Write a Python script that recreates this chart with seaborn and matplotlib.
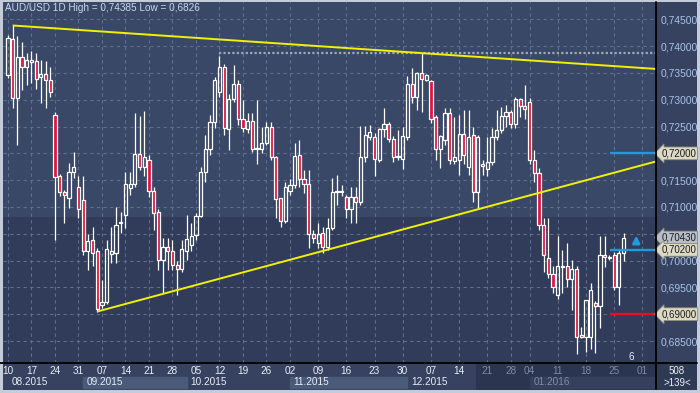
import numpy as np
import matplotlib
matplotlib.use("Agg")
import matplotlib.pyplot as plt
from matplotlib.patches import Rectangle
from matplotlib.ticker import FuncFormatter
import seaborn as sns

# AUD/USD daily bars, 10.08.2015 .. 27.01.2016
opens = [0.7346, 0.7413, 0.7303, 0.7380, 0.7362, 0.7375, 0.7372, 0.7342, 0.7348, 0.7337,
         0.7272, 0.7157, 0.7128, 0.7117, 0.7165, 0.7138, 0.7113, 0.7017, 0.7038, 0.7017,
         0.6917, 0.6923, 0.7013, 0.7015, 0.7070, 0.7085, 0.7135, 0.7142, 0.7199, 0.7174,
         0.7188, 0.7130, 0.7091, 0.7002, 0.7025, 0.7017, 0.6992, 0.6984, 0.7017, 0.7029,
         0.7048, 0.7083, 0.7166, 0.7208, 0.7259, 0.7315, 0.7362, 0.7245, 0.7301, 0.7329,
         0.7265, 0.7246, 0.7260, 0.7208, 0.7208, 0.7219, 0.7250, 0.7194, 0.7116, 0.7073,
         0.7130, 0.7141, 0.7197, 0.7152, 0.7142, 0.7049, 0.7032, 0.7051, 0.7026, 0.7060,
         0.7127, 0.7129, 0.7118, 0.7096, 0.7118, 0.7109, 0.7193, 0.7230, 0.7231, 0.7188,
         0.7245, 0.7254, 0.7226, 0.7193, 0.7189, 0.7231, 0.7329, 0.7306, 0.7350, 0.7337,
         0.7335, 0.7268, 0.7208, 0.7225, 0.7276, 0.7186, 0.7188, 0.7237, 0.7175, 0.7234,
         0.7127, 0.7181, 0.7170, 0.7184, 0.7231, 0.7244, 0.7270, 0.7278, 0.7255, 0.7301,
         0.7288, 0.7296, 0.7188, 0.7163, 0.7066, 0.7004, 0.6975, 0.6936, 0.6988, 0.6989,
         0.6965, 0.6984, 0.6861, 0.6857, 0.6858, 0.6920, 0.6915, 0.7010, 0.7006, 0.7011,
         0.6951, 0.7015]
highs = [0.7420, 0.74385, 0.7419, 0.7408, 0.7387, 0.7390, 0.7388, 0.7374, 0.7373, 0.7362,
         0.7278, 0.7162, 0.7132, 0.7182, 0.7203, 0.7157, 0.7157, 0.7050, 0.7063, 0.7024,
         0.6964, 0.7038, 0.7063, 0.7100, 0.7091, 0.7166, 0.7166, 0.7275, 0.7270, 0.7279,
         0.7197, 0.7137, 0.7096, 0.7042, 0.7042, 0.7038, 0.6999, 0.7038, 0.7085, 0.7070,
         0.7088, 0.7175, 0.7234, 0.7272, 0.7343, 0.7382, 0.7367, 0.7310, 0.7365, 0.7337,
         0.7300, 0.7275, 0.7275, 0.7300, 0.7250, 0.7259, 0.7259, 0.7195, 0.7117, 0.7147,
         0.7152, 0.7219, 0.7225, 0.7169, 0.7169, 0.7057, 0.7070, 0.7063, 0.7079, 0.7154,
         0.7160, 0.7141, 0.7122, 0.7138, 0.7138, 0.7251, 0.7251, 0.7253, 0.7238, 0.7247,
         0.7284, 0.7259, 0.7232, 0.7244, 0.7250, 0.7344, 0.7359, 0.7352, 0.7387, 0.7348,
         0.7337, 0.7272, 0.7234, 0.7284, 0.7284, 0.7268, 0.7272, 0.7281, 0.7281, 0.7250,
         0.7234, 0.7188, 0.7231, 0.7247, 0.7281, 0.7287, 0.7290, 0.7281, 0.7306, 0.7303,
         0.7328, 0.7303, 0.7207, 0.7172, 0.7079, 0.7079, 0.6990, 0.7045, 0.7020, 0.7032,
         0.7001, 0.6990, 0.6877, 0.6927, 0.6958, 0.6925, 0.7045, 0.7045, 0.7010, 0.7016,
         0.7020, 0.7051]
lows = [0.7340, 0.7285, 0.7216, 0.7318, 0.7328, 0.7331, 0.7320, 0.7293, 0.7284, 0.7306,
        0.7038, 0.7120, 0.7070, 0.7098, 0.7154, 0.7079, 0.7010, 0.6983, 0.6990, 0.6905,
        0.6912, 0.6919, 0.6995, 0.6995, 0.7051, 0.7061, 0.7122, 0.7138, 0.7169, 0.7157,
        0.7119, 0.7057, 0.6983, 0.6940, 0.6983, 0.6983, 0.6936, 0.6979, 0.7001, 0.7017,
        0.7038, 0.7082, 0.7147, 0.7197, 0.7247, 0.7306, 0.7234, 0.7206, 0.7296, 0.7253,
        0.7240, 0.7238, 0.7203, 0.7181, 0.7201, 0.7216, 0.7188, 0.7079, 0.7063, 0.7071,
        0.7122, 0.7135, 0.7138, 0.7126, 0.7023, 0.7032, 0.7023, 0.7015, 0.7019, 0.7057,
        0.7104, 0.7121, 0.7079, 0.7070, 0.7070, 0.7104, 0.7183, 0.7225, 0.7157, 0.7184,
        0.7231, 0.7221, 0.7183, 0.7188, 0.7170, 0.7225, 0.7293, 0.7281, 0.7278, 0.7335,
        0.7256, 0.7188, 0.7172, 0.7216, 0.7181, 0.7181, 0.7160, 0.7181, 0.7160, 0.7110,
        0.7098, 0.7160, 0.7157, 0.7178, 0.7225, 0.7238, 0.7250, 0.7247, 0.7247, 0.7268,
        0.7265, 0.7181, 0.7147, 0.7057, 0.6979, 0.6968, 0.6940, 0.6928, 0.6939, 0.6951,
        0.6908, 0.6826, 0.6855, 0.6830, 0.6836, 0.6828, 0.6874, 0.6988, 0.7001, 0.6945,
        0.6917, 0.7000]
closes = [0.7415, 0.7303, 0.7380, 0.7361, 0.7375, 0.7370, 0.7339, 0.7348, 0.7337, 0.7315,
          0.7156, 0.7127, 0.7122, 0.7165, 0.7175, 0.7096, 0.7017, 0.7037, 0.7015, 0.6910,
          0.6922, 0.7022, 0.7017, 0.7066, 0.7072, 0.7142, 0.7142, 0.7199, 0.7174, 0.7193,
          0.7130, 0.7088, 0.7002, 0.7025, 0.7017, 0.6992, 0.6984, 0.7022, 0.7040, 0.7046,
          0.7083, 0.7166, 0.7208, 0.7259, 0.7337, 0.7362, 0.7247, 0.7301, 0.7329, 0.7265,
          0.7247, 0.7260, 0.7209, 0.7210, 0.7219, 0.7250, 0.7194, 0.7114, 0.7073, 0.7137,
          0.7141, 0.7195, 0.7152, 0.7142, 0.7049, 0.7042, 0.7049, 0.7026, 0.7060, 0.7127,
          0.7129, 0.7127, 0.7096, 0.7118, 0.7109, 0.7193, 0.7234, 0.7239, 0.7189, 0.7245,
          0.7254, 0.7226, 0.7193, 0.7195, 0.7232, 0.7329, 0.7306, 0.7350, 0.7338, 0.7346,
          0.7264, 0.7208, 0.7232, 0.7276, 0.7188, 0.7194, 0.7237, 0.7197, 0.7231, 0.7127,
          0.7231, 0.7176, 0.7184, 0.7231, 0.7244, 0.7270, 0.7278, 0.7255, 0.7301, 0.7288,
          0.7282, 0.7188, 0.7163, 0.7066, 0.7010, 0.6975, 0.6951, 0.6990, 0.6990, 0.6965,
          0.6984, 0.6858, 0.6857, 0.6927, 0.6945, 0.6915, 0.7010, 0.7006, 0.7005, 0.6951,
          0.7015, 0.7043]

week_ticks = [0, 5, 10, 15, 20, 25, 30, 35, 40, 45, 50, 55, 60, 66, 72, 78, 84, 90, 96,
              102, 107, 111, 117, 123, 129, 135]
week_labels = ['10', '17', '24', '31', '07', '14', '21', '28', '05', '12', '19', '26', '02',
               '09', '16', '23', '30', '07', '14', '21', '28', '04', '11', '18', '25', '01']
month_starts = [0, 16, 38, 60, 85, 111]
month_labels = ['08.2015', '09.2015', '10.2015', '11.2015', '12.2015', '01.2016']

# trend lines (two anchor bars each) and horizontal levels
upper_trend_x = [1, 88]
upper_trend_y = [0.74385, 0.7387]
lower_trend_x = [19, 67]
lower_trend_y = [0.6905, 0.7018]
level_prices = [0.7200, 0.7020, 0.6900]
level_colors = ['#1e9be0', '#1e9be0', '#e8101e']
last_price = 0.70430
swing_high = 0.7387

W, H = 700, 393
sns.set_theme(style="dark")
plt.rcParams['font.family'] = ['Liberation Sans', 'DejaVu Sans']

fig = plt.figure(figsize=(W / 100, H / 100), dpi=100)
fig.patch.set_facecolor('#c3ccd8')


def fig_rect(x0, y0, x1, y1, color, z=-2):
    fig.add_artist(Rectangle((x0 / W, 1 - y1 / H), (x1 - x0) / W, (y1 - y0) / H,
                             transform=fig.transFigure, color=color, zorder=z, lw=0))


# panels around the plot
fig_rect(3, 2, 697, 390, '#36425f', -3)
fig_rect(476, 363, 656, 390, '#2b3550')
fig_rect(656, 363, 697, 390, '#2e3953')

ax = fig.add_axes([3 / W, 1 - 363 / H, 653 / W, 361 / H])
xmin, xmax = -1.06, 137.9
ymin, ymax = 0.6809, 0.74823
ax.set_xlim(xmin, xmax)
ax.set_ylim(ymin, ymax)
ax.set_facecolor('#303c5a')
ax.axhspan(0.7081, ymax, color='#3a4868', zorder=0.1, lw=0)

# candles
x = np.arange(len(opens))
o, h, l, c = map(np.array, (opens, highs, lows, closes))
top = np.maximum(o, c)
bot = np.minimum(o, c)
ax.vlines(x, top, h, color='white', lw=0.9, zorder=3)
ax.vlines(x, l, bot, color='white', lw=0.9, zorder=3)
up = c >= o
ax.bar(x[up], (top - bot)[up], bottom=bot[up], width=0.68, color='none',
       edgecolor='white', linewidth=0.9, zorder=4)
ax.bar(x[~up], (top - bot)[~up], bottom=bot[~up], width=0.68, color='#e0143c',
       edgecolor='white', linewidth=0.9, zorder=4)

# trend lines extended to the right edge
for tx, ty in ((upper_trend_x, upper_trend_y), (lower_trend_x, lower_trend_y)):
    slope = (ty[1] - ty[0]) / (tx[1] - tx[0])
    ax.plot([tx[0], xmax], [ty[0], ty[0] + slope * (xmax - tx[0])],
            color='#f2f200', lw=1.4, zorder=5, solid_capstyle='butt')

ax.hlines(swing_high, 45, xmax, color='#a0a9b8', lw=1.6, linestyles=(0, (1, 1)), zorder=2)
for p, col in zip(level_prices, level_colors):
    ax.hlines(p, 128.1, xmax, color=col, lw=1.7, zorder=5)
ax.annotate('', xy=(133.7, 0.7052), xytext=(133.7, 0.7029),
            arrowprops=dict(arrowstyle='-|>', color='#1e9be0', lw=2.0, mutation_scale=10))

# grid + ticks
covered = (0.720, 0.705, 0.690)


def price_fmt(v, _):
    if any(abs(v - cv) < 1e-6 for cv in covered):
        return ''
    return f"{v:.5f}".replace('.', ',')


ax.set_xticks(week_ticks)
ax.set_xticklabels(week_labels)
ax.set_yticks(np.arange(0.685, 0.7451, 0.005))
ax.yaxis.set_major_formatter(FuncFormatter(price_fmt))
ax.yaxis.tick_right()
ax.grid(True, color='#5e6e8e', lw=0.8, linestyle=(0, (3, 3)))
ax.tick_params(axis='x', length=0, pad=2.5, labelsize=7.2, labelcolor='#e8eef8')
ax.tick_params(axis='y', length=0, pad=3.5, labelsize=7.4, labelcolor='#a9c3e6')
for t, lab in zip(week_ticks, ax.get_xticklabels()):
    if t > 99:
        lab.set_color('#7d8ba5')
for s in ax.spines.values():
    s.set_visible(False)

# month row
xt = ax.get_xaxis_transform()
nxt = month_starts[1:] + [xmax - 1]
for i, (m0, m1, lab) in enumerate(zip(month_starts, nxt, month_labels)):
    if i in (1, 3):
        ax.add_patch(Rectangle((m0, -0.0693), m1 - m0, 0.0305, transform=xt,
                               color='#4a5a79', clip_on=False, zorder=1))
    if i == 5:
        ax.add_patch(Rectangle((m0, -0.0693), xmax - m0 - 0.3, 0.0305, transform=xt,
                               color='#34405c', clip_on=False, zorder=1))
    ax.text(m0 + 0.8, -0.0526, lab, transform=xt, ha='left', va='center', fontsize=7.2,
            color='#7d8ba5' if i == 5 else '#e8eef8', clip_on=False, zorder=2)

# separator lines
fig.add_artist(plt.Line2D([0, 697 / W], [1 - 363 / H] * 2, color='black', lw=1.3))
fig.add_artist(plt.Line2D([656 / W] * 2, [1 - 2 / H, 1 - 389 / H], color='black', lw=1.3))

# price boxes on the right axis
yt = ax.get_yaxis_transform()
box_labels = [(level_prices[0], '#dcdac4'), (last_price, '#b7bec8'),
              (level_prices[1], '#dcdac4'), (level_prices[2], '#dcdac4')]
for p, fc in box_labels:
    ax.text(1.008, p, f"{p:.5f}".replace('.', ','), transform=yt, ha='left', va='center',
            fontsize=7.0, color='#1c1c1c', clip_on=False, zorder=6,
            bbox=dict(boxstyle='larrow,pad=0.14', fc=fc, ec='#8d8c7c', lw=0.6))

# texts
fig.text(5 / W, 1 - 8 / H, 'AUD/USD 1D High = 0,74385 Low = 0,6826', ha='left',
         va='center', fontsize=7.2, color='#c8d6ec')
fig.text(631 / W, 1 - 357 / H, '6', ha='center', va='center', fontsize=7.2, color='#e8eef8')
fig.text(677 / W, 1 - 371 / H, '508', ha='center', va='center', fontsize=7, color='#e8eef8')
fig.text(677 / W, 1 - 383 / H, '>139<', ha='center', va='center', fontsize=7, color='#e8eef8')

fig.savefig('out.png', dpi=100, facecolor=fig.get_facecolor())
